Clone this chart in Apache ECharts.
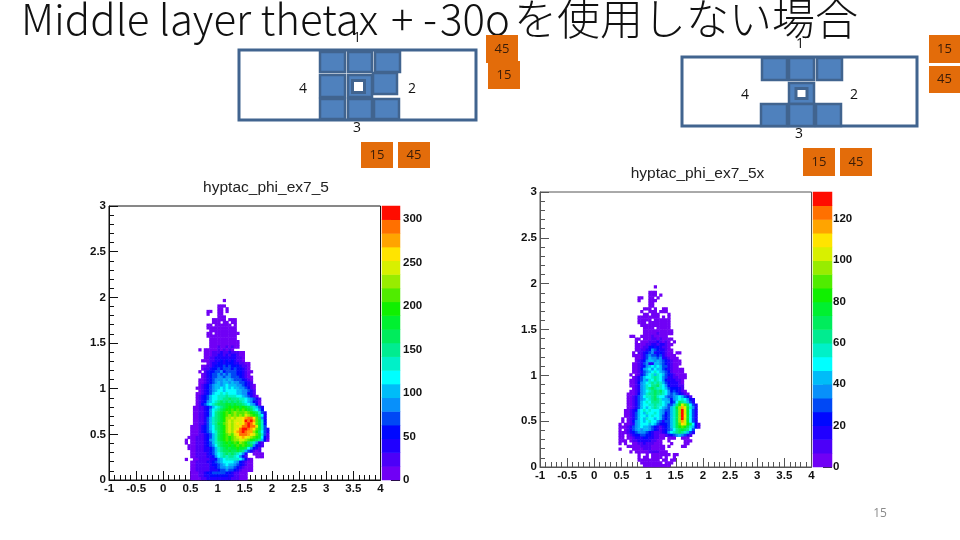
<!DOCTYPE html>
<html><head><meta charset="utf-8">
<style>html,body{margin:0;padding:0;background:#fff}#c{width:960px;height:540px}</style>
<script src="https://cdn.jsdelivr.net/npm/echarts@6/dist/echarts.min.js"></script>
</head><body><div id="c"></div>
<script>
// Colour bands of the palette, low to high
const palette = ['#7000f5','#4c00f8','#2000ff','#0008ff','#0048f5','#0890fa','#00bcf8','#00ffff','#00f0c8','#00ec90','#00ec5c','#00f030','#10f000','#50ec00','#98ec00','#d8f000','#ffe400','#ffa400','#ff7000','#ff0c00'];
const leftMax = 315, rightMax = 132.8;
const leftTicks = [0,50,100,150,200,250,300];
const rightTicks = [0,20,40,60,80,100,120];
const xColStart = 27; // first histogram column held in each row string
// Band read per histogram bin. Rows run from y bin 65 down to y bin 0. '.' = empty bin. 0-9,a-j = band 0-19
const leftRows = [
"...............0",
"",
".............000",
".............00.0",
".........00..00.0",
".........0...00",
".............000",
"...........00000.000",
"...........000.00.00",
".........00.000000.0",
".........00000000000",
"..........0000000000",
".........00.000000000",
".........00000000000",
"..........0000000000",
"..........00000000000",
"..........00000000000",
"..........00010010100",
"......0.00000101010",
"........000111211211100",
"........000112212122100",
"........001122222222110",
".......0001122323232110",
".........0122332333221100",
".......001123334343332110",
".......011233434443433210",
"......0.123344534444332100",
".......012344545454433210",
".......0123445545544432100",
"......00123455565654443210",
"......00123456566565544321",
"......012345665676665543210",
".....0012345667676766554310",
"......012345677677776655421",
".....0012346778787776655321",
".....01234677888988877654210",
".....012346778899a99988765421",
".....012356789a9a9a9a98765320",
".....01346789aaabbabaa9876530",
"....001123 46 78 9ab cbccbcb a98642",
"....001123 57 89 abc cdcdcdc ba8753",
"....001123 57 9a bcd cdeddde dcba842",
"....001123 57 9a bcd edededf edcb972",
"....001124 68 9a bce efeffg hii gda52",
"....001124 68 9a bce fefffg jij hdb83",
"....001124 68 9b bde fefgfg iji gdb83",
"...0001234 679 abc efe ffg iijii fb84",
"...0001234 679 abc efe fg ijjih gdb842",
"...0001234 578 abc efe gh ijih heca742",
"...0001123 468 abc ded fg iiih gfdb841",
"..00011123 468 abc dcd ef ghgf edcb731",
".0.0011123 568 abc dcd ee ffedcba9630",
".0.0011123 468 9ab cbc dc edca98521",
"..00011123 457 9ab bcb cd cdcba5321",
"..00011122 346 89a bab bc bba75321",
"...0011122 346 89a aba ab a9642101",
"...0011112 346 789 a9a 9 8752..0000",
"...0011112 235 789 899 8 7531...000",
".0..0011112 235 678 888 8 75310",
"...0011112 234 567 777 6532100",
"...0011111 233 456 766 5432100",
"...0011111 223 455 655 4321000",
"...0011111 222 344 544 3210000",
"...000112334444433211000",
"...000112233333332211000",
"...000011222222222111000"
].map(s=>s.replace(/ /g,''));
const rightRows = [
"...............0",
"",
".............000",
".............000.0",
".........00..00.0",
".........0...000",
".............00",
".............00",
"...........000.0..00",
"..........0..000.000",
"...........00.000...0",
".........00000000.0.0",
".........00000.000000",
".........000.00000000",
"..........00000000000",
"...........0000.00000",
"...........00000000000",
"...........00000100000",
"......00..0000100000",
"........00.00011010000",
"........0.00011121010.0",
"........00001122122100",
"........0001133232110",
"........00112354322100",
".......0.1123452332100.00",
".......0001245443421000",
"........0012465545221000",
"........01235665654321000",
".......001245226654321000",
".......00123567676442100",
".......0013567576643210000",
".......0012456787654310000",
"......0.0134678687643210000",
".......01246778987542211000",
"......00124658798753222110",
"......00135678989864322210",
"......0012568799a875322211",
".......0125689a98876433321",
"......001256789a9a875343210",
".....0001356899a998754543210",
".....0012457889a87754456764 31",
".....0012456789a98665356787532",
".....0012467879998766 347a98642",
".....0012467788988764 469cfda742",
".....0012467678987654 68behfb852",
"....0012367878777654 468aejfb742",
"....0012467687787653 468aejfb742",
"....0012467767877643 468aejgb742",
"...0.012467687767643 468aejfb742",
"...0.013567678775424 468aehfb742",
"..0.00125677767643 33468adgfca731",
"..0001245676654321 23468acdca8631",
"..0.01245656654321 234579aba974",
"..0001234555432111 235789a98642",
"..00.012334433211001234565421",
"..00.00122233221100.000..000",
"..000.011222221100..0.....000",
"..0.0..00112111000...0....00",
".....00000111100000.0....00",
"..0....000011100000",
"......0.000001111000",
".........0..0.0000000.00",
".........0.00.0000.0..0",
".........00000000.00.00",
"..........00000000.000",
"...........0000000000"
].map(s=>s.replace(/ /g,''));

// ---- build histogram data from the rows ----
function cells(rows, max){
  const step = max/20, out = [];
  rows.forEach((r,k)=>{
    const j = 65-k;
    for(let p=0;p<r.length;p++){
      if(r[p]==='.') continue;
      out.push([xColStart+p, j, (parseInt(r[p],36)+0.5)*step]);
    }
  });
  return out;
}
const binCats = Array.from({length:100},(_,i)=>String(i));
const bandCats = palette.map((_,i)=>String(i));
const barData = max => palette.map((_,k)=>[0,k,(k+0.5)*max/20]);
const pieces = max => palette.map((c,k)=>({gte:k*max/20, lt:(k+1)*max/20, color:c}));

const font = 'Liberation Sans';
const labelStyle = {fontFamily:font,fontWeight:'bold',fontSize:11.5,color:'#111'};
function plotAxes(axisColor){
  const line = {show:true,onZero:false,lineStyle:{color:axisColor,width:1}};
  const common = {type:'value',interval:0.5,axisLine:line,splitLine:{show:false},
       axisTick:{inside:true,length:9,lineStyle:{color:axisColor}},
       minorTick:{show:true,splitNumber:5,length:5,lineStyle:{color:axisColor}},
       axisLabel:{...labelStyle,margin:3,showMinLabel:true,showMaxLabel:true}};
  return {
    x:{...common,min:-1,max:4,position:'bottom'},
    y:{...common,min:0,max:3,position:'left'}
  };
}
const hiddenCat = (d,pos) => ({type:'category',data:d,show:false,boundaryGap:true,position:pos});
const leftAx = plotAxes('#111'), rightAx = plotAxes('#555');
const barAxis = (max,ticks,c,m) => ({type:'value',min:0,max:max,position:'right',splitLine:{show:false},
  axisLine:{show:false},
  axisTick:{show:true,inside:true,length:9,customValues:ticks,lineStyle:{color:c}},
  axisLabel:{...labelStyle,margin:m,customValues:ticks}});

// ---- slide furniture ----
const ORANGE='#e36c0a', BLUE='#4f81bd', EDGE='#41648f';
const orange=(x,y,w,h,t)=>[
 {type:'rect',shape:{x,y,width:w,height:h},style:{fill:ORANGE},silent:true},
 {type:'text',x:x+w/2,y:y+h/2,style:{text:t,fill:'#3a1c08',font:'13px "Open Sans"',textAlign:'center',textVerticalAlign:'middle'},silent:true}];
const outer=(x,y,w,h)=>({type:'rect',shape:{x,y,width:w,height:h},style:{fill:'#fff',stroke:EDGE,lineWidth:3},silent:true});
const sq=(x,y,w,h)=>({type:'rect',shape:{x,y,width:w,height:h},style:{fill:BLUE,stroke:EDGE,lineWidth:2.5},silent:true});
const hole=(x,y,w,h)=>({type:'rect',shape:{x,y,width:w,height:h},style:{fill:'#fff',stroke:EDGE,lineWidth:3},silent:true});
const num=(x,y,t)=>({type:'text',x,y,style:{text:t,fill:'#111',font:'14px "Open Sans"',textAlign:'center',textVerticalAlign:'middle'},silent:true});
const bigText=(x,t,size)=>({type:'text',x,y:19,style:{text:t,fill:'#111',font:'300 '+size+'px "Noto Sans CJK JP"',textAlign:'left',textVerticalAlign:'middle'},silent:true});

const furniture = [
 outer(239,50,237,70),
 sq(320,52,25,20),sq(348,52,24,20),sq(375,52,25,20),
 sq(320,75,25,22),sq(348,75,24,22),sq(373,73,24,21),
 sq(320,99,25,20),sq(348,99,24,20),sq(374,99,25,20),
 hole(352.5,80.5,12,12),
 outer(682,57,235,69),
 sq(762,58,25,22),sq(789,58,25,22),sq(817,58,25,22),
 sq(789,83,25,21),
 sq(761,104,26,22),sq(789,104,25,22),sq(816,104,25,22),
 hole(796,88.5,11,10),
 bigText(21,'Middle layer thetax',42),
 bigText(391,'+',42),
 bigText(423,'-',42),
 bigText(440,'30o',42),
 bigText(514,'を使用しない場合',43),
 num(357,38,'1'),num(303,89,'4'),num(412,89,'2'),num(357,128,'3'),
 num(800,44,'1'),num(745,95,'4'),num(854,95,'2'),num(799,134,'3'),
 ...orange(486,35,32,28,'45'),...orange(488,61,32,28,'15'),
 ...orange(361,142,32,26,'15'),...orange(398,142,32,26,'45'),
 ...orange(929,35,31,28,'15'),...orange(929,66,31,27,'45'),
 ...orange(803,148,32,28,'15'),...orange(840,148,32,28,'45'),
 {type:'text',x:880,y:514,style:{text:'15',fill:'#8a8a8a',font:'12px "Open Sans"',textAlign:'center',textVerticalAlign:'middle'},silent:true}
];

const heat=(x,y,d)=>({type:'heatmap',xAxisIndex:x,yAxisIndex:y,data:d,silent:true,progressive:0,itemStyle:{borderWidth:0},emphasis:{disabled:true}});

const option = {
 animation:false,backgroundColor:'#fff',
 title:[
  {text:'hyptac_phi_ex7_5',left:261,top:175,textAlign:'center',textStyle:{fontFamily:font,fontWeight:'normal',fontSize:15.5,color:'#222'}},
  {text:'hyptac_phi_ex7_5x',left:692.5,top:161,textAlign:'center',textStyle:{fontFamily:font,fontWeight:'normal',fontSize:15.5,color:'#222'}}
 ],
 grid:[
  {left:109,top:206,width:271.5,height:274,show:true,borderColor:'#111',borderWidth:1,backgroundColor:'#fff'},
  {left:382,top:206,width:18,height:274},
  {left:540,top:192,width:271.5,height:275,show:true,borderColor:'#555',borderWidth:1,backgroundColor:'#fff'},
  {left:813,top:192,width:19,height:275}
 ],
 xAxis:[
  {...hiddenCat(binCats,'top'),gridIndex:0},{...leftAx.x,gridIndex:0},
  {...hiddenCat(['0'],'bottom'),gridIndex:1},
  {...hiddenCat(binCats,'top'),gridIndex:2},{...rightAx.x,gridIndex:2},
  {...hiddenCat(['0'],'bottom'),gridIndex:3}
 ],
 yAxis:[
  {...hiddenCat(binCats,'right'),gridIndex:0},{...leftAx.y,gridIndex:0},
  {...hiddenCat(bandCats,'left'),gridIndex:1},{...barAxis(leftMax,leftTicks,'#111',3),gridIndex:1},
  {...hiddenCat(binCats,'right'),gridIndex:2},{...rightAx.y,gridIndex:2},
  {...hiddenCat(bandCats,'left'),gridIndex:3},{...barAxis(rightMax,rightTicks,'#333',1),gridIndex:3}
 ],
 visualMap:[
  {type:'piecewise',show:false,dimension:2,seriesIndex:[0,1],pieces:pieces(leftMax)},
  {type:'piecewise',show:false,dimension:2,seriesIndex:[2,3],pieces:pieces(rightMax)}
 ],
 series:[
  heat(0,0,cells(leftRows,leftMax)),
  heat(2,2,barData(leftMax)),
  heat(3,4,cells(rightRows,rightMax)),
  heat(5,6,barData(rightMax))
 ],
 graphic:furniture
};
echarts.init(document.getElementById('c'),null,{renderer:'canvas'}).setOption(option);
</script></body></html>
